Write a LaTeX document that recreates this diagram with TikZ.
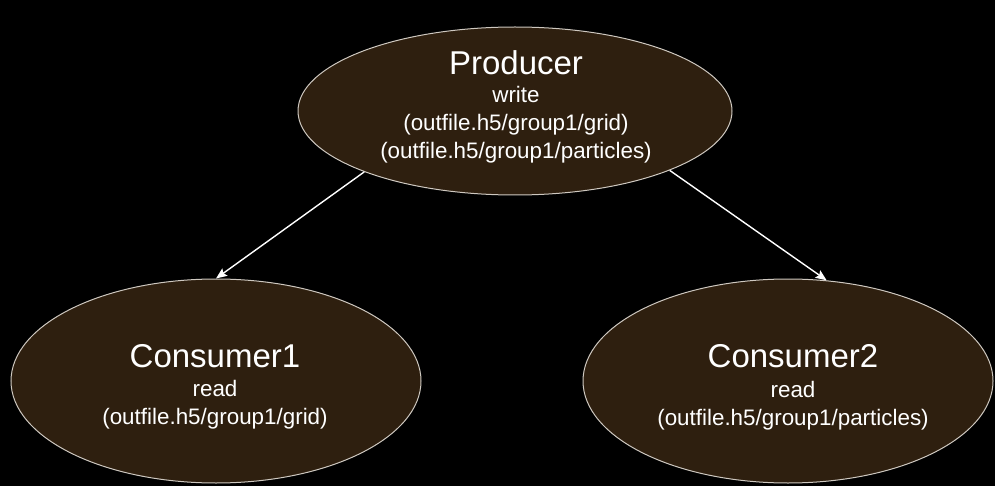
\documentclass[tikz,border=0pt]{standalone}
\usepackage{fontspec}
\setmainfont{Liberation Sans}
\usetikzlibrary{shapes.geometric,arrows.meta}
\definecolor{nodefill}{HTML}{2E1F0F}
\definecolor{nodeline}{HTML}{CEC8C0}
\begin{document}
\begin{tikzpicture}[x=1pt,y=-1pt,
  oval/.style={ellipse, draw=nodeline, line width=1pt, fill=nodefill, inner sep=0pt},
  titletext/.style={text=white, anchor=base, inner sep=0pt, font=\fontsize{33}{40}\selectfont},
  subtext/.style={text=white, anchor=base, inner sep=0pt, font=\fontsize{22.4}{28}\selectfont},
  link/.style={draw=white, line width=1.4pt, -{Stealth[length=11pt,width=9pt,inset=2pt]}}]
\fill[black] (0,0) rectangle (995,486);
\useasboundingbox (0,0) rectangle (995,486);
% ovals
\node[oval, minimum width=434pt, minimum height=168pt] (P) at (515,111) {};
\node[oval, minimum width=410pt, minimum height=204pt] (C1) at (216,381) {};
\node[oval, minimum width=410pt, minimum height=204pt] (C2) at (788,381) {};
% producer texts
\node[titletext] (Pt) at (516,75) {Producer};
\node[subtext] (Pw) at (516,103) {write};
\node[subtext] (Pg) at (516,131) {(outfile.h5/group1/grid)};
\node[subtext] (Pp) at (516,159) {(outfile.h5/group1/particles)};
% consumer1 texts
\node[titletext] (C1t) at (215,367) {Consumer1};
\node[subtext] (C1r) at (215,396) {read};
\node[subtext] (C1g) at (215,424) {(outfile.h5/group1/grid)};
% consumer2 texts
\node[titletext] (C2t) at (793,367) {Consumer2};
\node[subtext] (C2r) at (793,397) {read};
\node[subtext] (C2p) at (793,425) {(outfile.h5/group1/particles)};
% connectors
\draw[link] (P.202) -- (C1.90);
\draw[link] (P.-21.5) -- (C2.69);
\end{tikzpicture}
\end{document}
